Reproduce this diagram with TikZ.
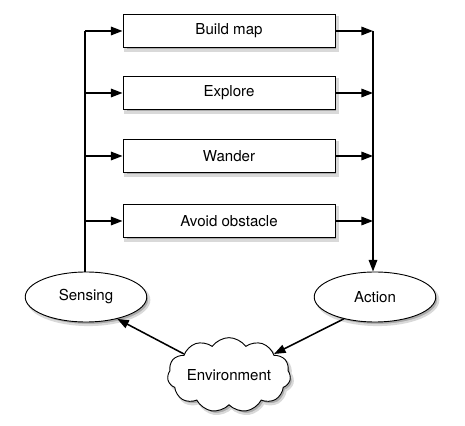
\documentclass[tikz,border=0pt]{standalone}
\usepackage{fontspec}
\setmainfont{TeX Gyre Heros}
\usetikzlibrary{arrows.meta,shapes.geometric,shapes.symbols}

\begin{document}
\begin{tikzpicture}[x=0.65pt,y=-0.65pt,
    font=\fontsize{9.8}{11}\selectfont,
    shadowfill/.style={fill=gray!65,draw=gray!30,line width=1.4pt},
    behaviour/.style={draw,fill=white,line width=.6pt,minimum width=137.8pt,minimum height=21pt,inner sep=0pt},
    stage/.style={ellipse,draw,fill=white,line width=.6pt,minimum width=79pt,minimum height=32.5pt,inner sep=0pt},
    world/.style={cloud,cloud puffs=11,cloud puff arc=110,aspect=2,draw,fill=white,line width=.6pt,minimum width=78pt,minimum height=39pt,inner sep=0pt},
    wire/.style={black,line width=1pt},
    arr/.style={wire,-{Triangle[length=7.5pt,width=5.5pt]}}]
    \useasboundingbox (0,0) rectangle (465,426);
    % soft shadows first, shapes on top
    \foreach \y in {31,93,156,221}
      \filldraw[shadowfill] (125.5,{\y-13.5}) rectangle ++(212,33);
    \foreach \x in {86,375}
      \filldraw[shadowfill] ({\x+2.5},300) ellipse [x radius=39.5pt,y radius=16.25pt];
    \node[world,shadowfill] at (231.5,378) {\phantom{Environment}};
    \node[behaviour] (build) at (229,31) {Build map};
    \node[behaviour] (explore) at (229,93) {Explore};
    \node[behaviour] (wander) at (229,156) {Wander};
    \node[behaviour] (avoid) at (229,221) {Avoid obstacle};
    \node[stage] (sens) at (86,297) {Sensing};
    \node[stage] (act) at (375,297) {Action};
    \node[world] (env) at (229,375) {Environment};
    \coordinate (lbus) at (85,31);
    \coordinate (rbus) at (373,31);
    % sensing feeds every behaviour
    \draw[wire] (lbus |- sens.north) -- (lbus);
    \foreach \b in {build,explore,wander,avoid}
      \draw[arr] (lbus |- \b.west) -- (\b.west);
    % behaviours merge into action
    \foreach \b in {build,explore,wander,avoid}
      \draw[arr] (\b.east) -- (rbus |- \b.east);
    \draw[arr] (rbus) -- (rbus |- act.north);
    \draw[arr] (act.215) -- (env.25);
    \draw[arr] (env.155) -- (sens.-35);
  \end{tikzpicture}
\end{document}
